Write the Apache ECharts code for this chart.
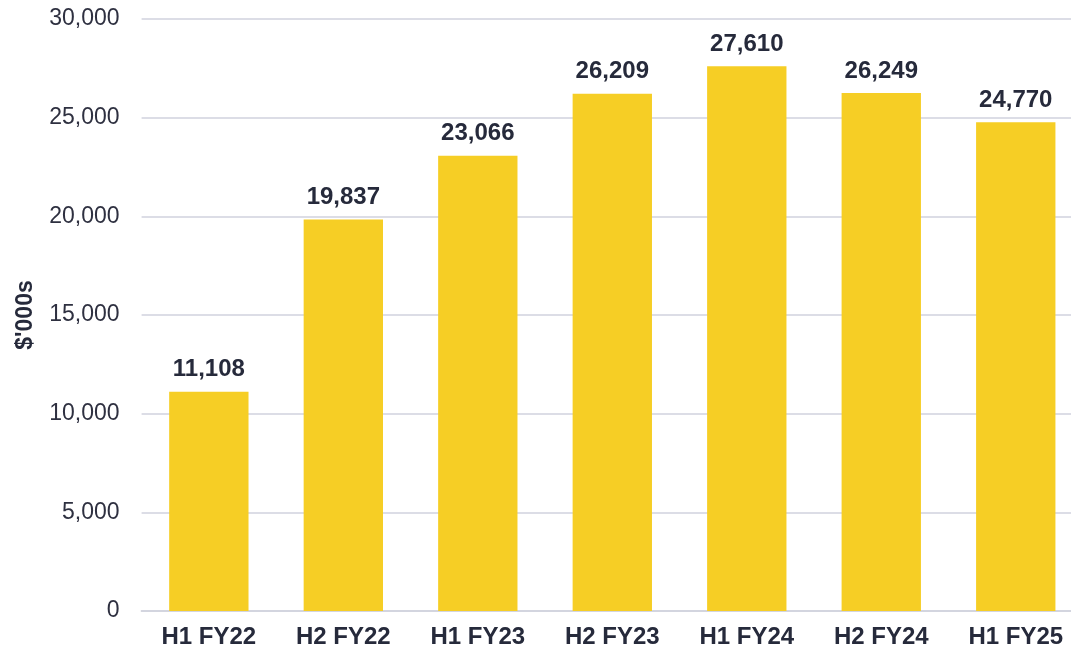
<!DOCTYPE html>
<html>
<head>
<meta charset="utf-8">
<script src="https://cdn.jsdelivr.net/npm/echarts@6/dist/echarts.min.js"></script>
<style>
  html, body {margin: 0; padding: 0; background: #fff; overflow: hidden;}
  /* wider than the window: the plot runs past the right edge, like the original */
  #chart {width: 1083px; height: 652px;}
</style>
</head>
<body>
<div id="chart"></div>
<script>
// periods and revenue ($'000s)
const periods = ['H1 FY22', 'H2 FY22', 'H1 FY23', 'H2 FY23', 'H1 FY24', 'H2 FY24', 'H1 FY25']
const revenue = [11108, 19837, 23066, 26209, 27610, 26249, 24770]
const yTicks = [0, 5000, 10000, 15000, 20000, 25000, 30000]

const fontFamily = '"Liberation Sans", Arial, sans-serif'
const fmt = v => v.toLocaleString('en-US')

let chart = echarts.init(document.getElementById('chart'))

let option = {
  animation: false,
  textStyle: {fontFamily: fontFamily},
  grid: {left: 141.6, top: 19, right: 0, bottom: 41},
  xAxis: {
    type: 'category',
    data: periods,
    axisTick: {show: false},
    axisLine: {lineStyle: {color: '#d3d5df', width: 2}},
    axisLabel: {
      color: '#262a3b', fontWeight: 'bold', fontSize: 24,
      margin: 14, fontFamily: fontFamily
    }
  },
  yAxis: {
    type: 'value',
    min: yTicks[0],
    max: yTicks[yTicks.length - 1],
    interval: 5000,
    name: "$'000s",
    nameLocation: 'middle',
    nameRotate: 90,
    nameGap: 104,
    nameTextStyle: {color: '#262a3b', fontWeight: 'bold', fontSize: 23, fontFamily: fontFamily},
    axisLine: {show: false},
    axisTick: {show: false},
    axisLabel: {
      color: '#2e3040', fontSize: 23, margin: 22, fontFamily: fontFamily,
      formatter: v => fmt(v)
    },
    splitLine: {lineStyle: {color: '#dcdde6', width: 2}}
  },
  series: [{
    type: 'bar',
    data: revenue,
    barWidth: '59%',
    itemStyle: {color: '#f6ce25'},
    label: {
      show: true,
      position: 'top',
      distance: 10,
      color: '#262a3b',
      fontWeight: 'bold',
      fontSize: 24,
      fontFamily: fontFamily,
      formatter: p => fmt(p.value)
    }
  }]
}

chart.setOption(option)
</script>
</body>
</html>
